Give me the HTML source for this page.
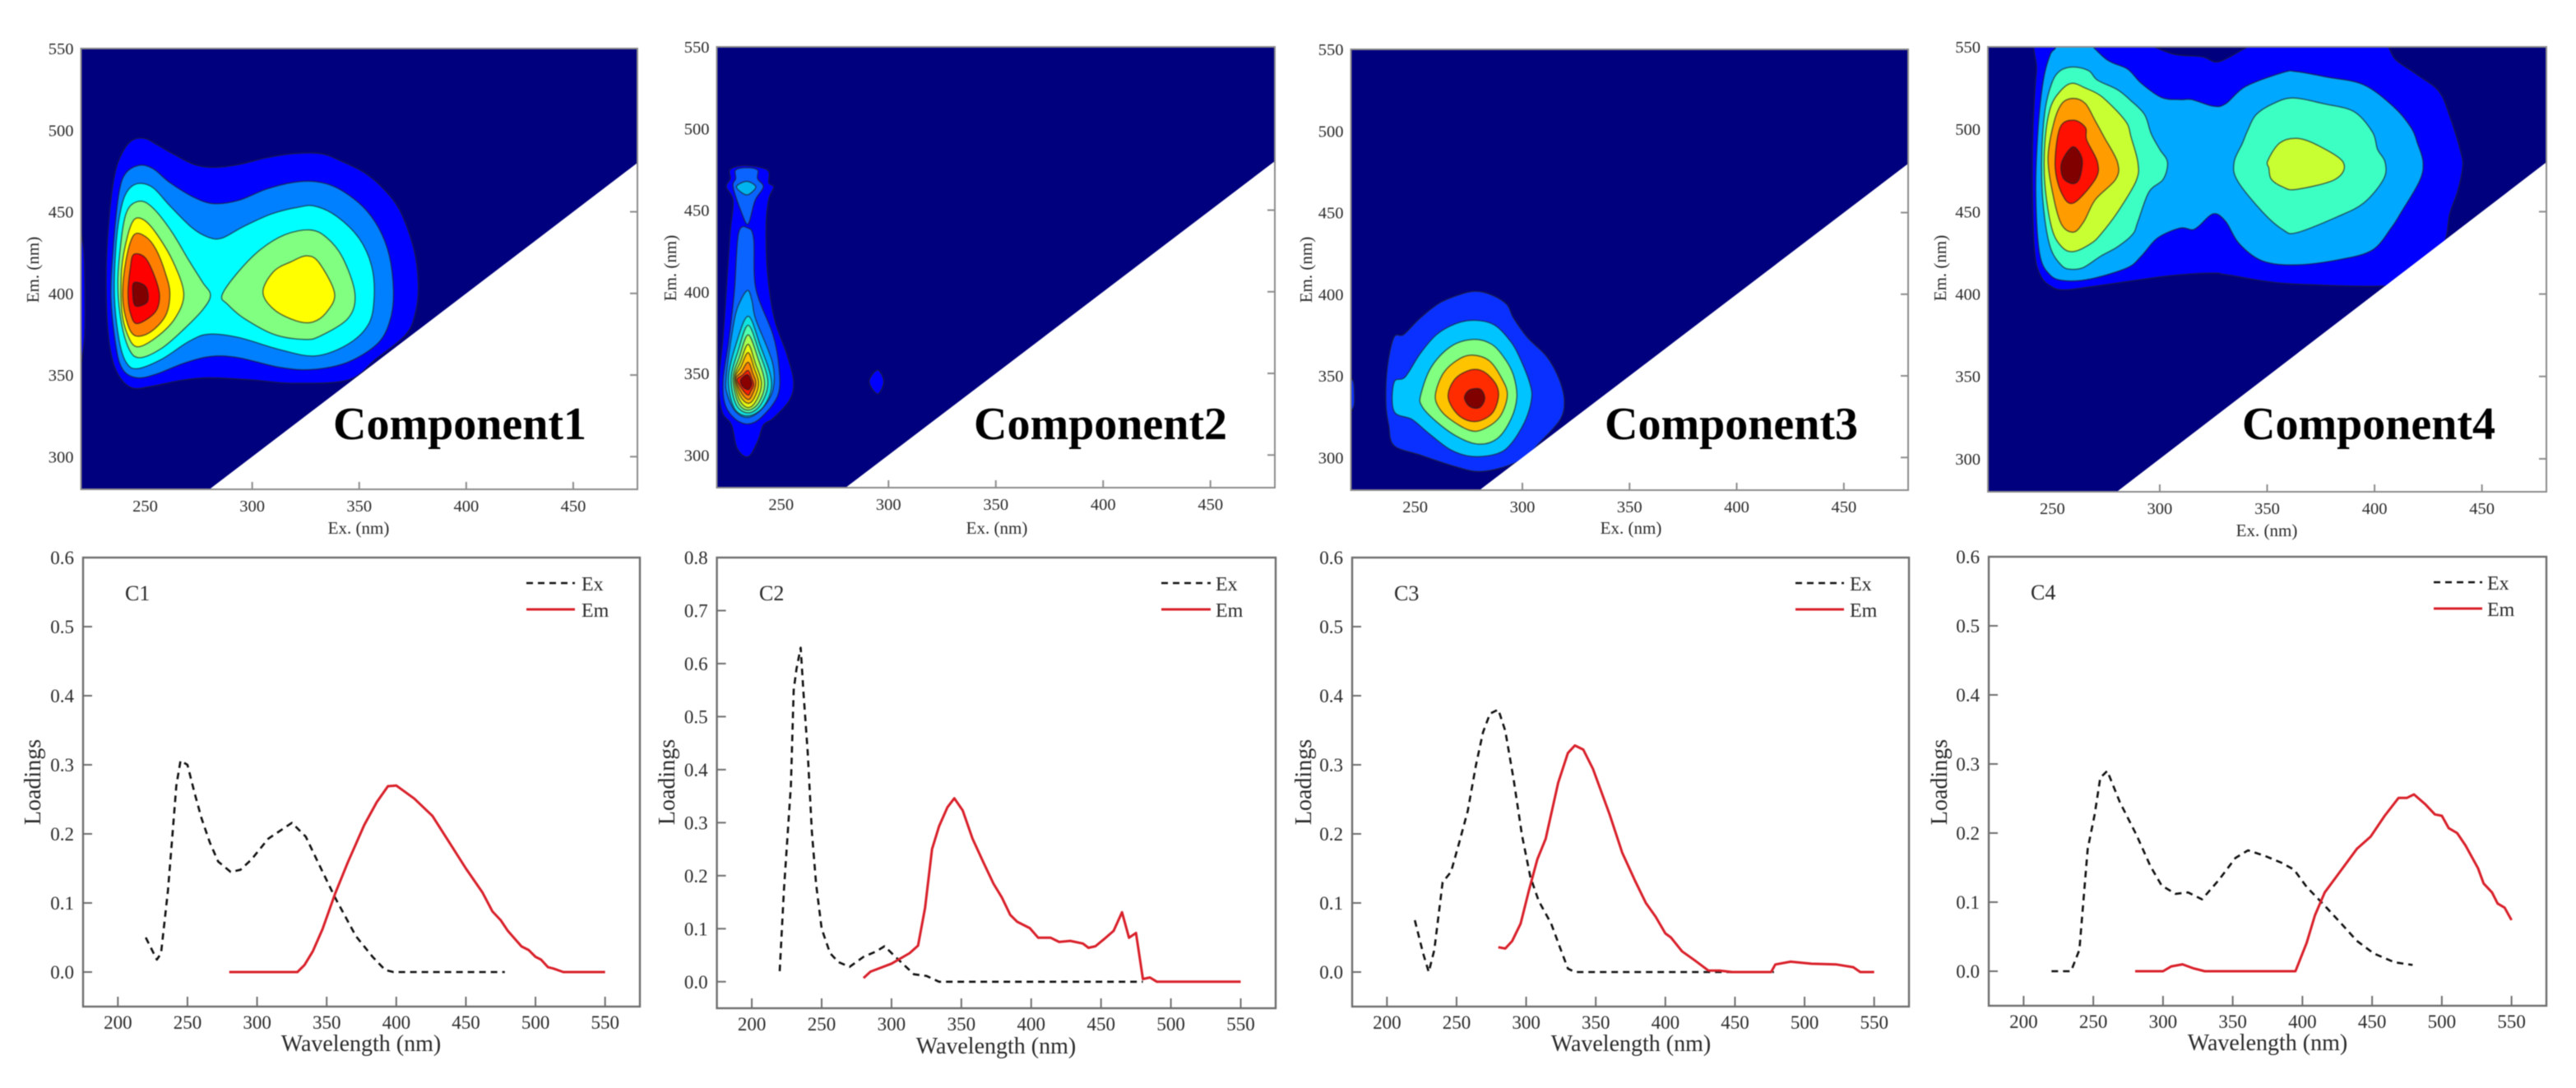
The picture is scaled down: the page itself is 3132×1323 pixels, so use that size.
<!DOCTYPE html>
<html lang="en">
<head>
<meta charset="utf-8">
<title>PARAFAC components: contour maps and loadings</title>
<style>
html,body{margin:0;padding:0;background:#fff;width:3132px;height:1323px;overflow:hidden}
svg{display:block;filter:blur(.6px)}
text{font-family:"Liberation Serif",serif;fill:#2a2a2a}
.tick{font-size:20.5px}
.ltick{font-size:23px}
.ctitle{font-size:21px}
.ltitle{font-size:28px}
.legend{font-size:24px}
.tag{font-size:26px}
.comp{font-size:56px;font-weight:bold;fill:#000}
</style>
</head>
<body>
<svg id="figure" xmlns="http://www.w3.org/2000/svg" width="3132" height="1323" viewBox="0 0 3132 1323">
  <rect width="3132" height="1323" fill="#fff"/>
  <g id="contour1"></g>
  <g id="contour2"></g>
  <g id="contour3"></g>
  <g id="contour4"></g>
  <g id="line1"></g>
  <g id="line2"></g>
  <g id="line3"></g>
  <g id="line4"></g>

  <text class="comp" x="405" y="534">Component1</text>
  <text class="comp" x="1184" y="534">Component2</text>
  <text class="comp" x="1951" y="534">Component3</text>
  <text class="comp" x="2726" y="534">Component4</text>

  <text class="ctitle" text-anchor="middle" x="436" y="649">Ex. (nm)</text>
  <text class="ctitle" text-anchor="middle" x="1212" y="649">Ex. (nm)</text>
  <text class="ctitle" text-anchor="middle" x="1983" y="649">Ex. (nm)</text>
  <text class="ctitle" text-anchor="middle" x="2756" y="652">Ex. (nm)</text>

  <text class="ctitle" text-anchor="middle" transform="translate(47,328) rotate(-90)">Em. (nm)</text>
  <text class="ctitle" text-anchor="middle" transform="translate(822,326) rotate(-90)">Em. (nm)</text>
  <text class="ctitle" text-anchor="middle" transform="translate(1595,328) rotate(-90)">Em. (nm)</text>
  <text class="ctitle" text-anchor="middle" transform="translate(2366,326) rotate(-90)">Em. (nm)</text>

  <text class="ltitle" text-anchor="middle" x="439" y="1278">Wavelength (nm)</text>
  <text class="ltitle" text-anchor="middle" x="1211" y="1281">Wavelength (nm)</text>
  <text class="ltitle" text-anchor="middle" x="1983" y="1278">Wavelength (nm)</text>
  <text class="ltitle" text-anchor="middle" x="2757" y="1277">Wavelength (nm)</text>

  <text class="ltitle" text-anchor="middle" transform="translate(49,951) rotate(-90)">Loadings</text>
  <text class="ltitle" text-anchor="middle" transform="translate(820,951) rotate(-90)">Loadings</text>
  <text class="ltitle" text-anchor="middle" transform="translate(1594,951) rotate(-90)">Loadings</text>
  <text class="ltitle" text-anchor="middle" transform="translate(2367,951) rotate(-90)">Loadings</text>

  <text class="tag" x="152" y="730">C1</text>
  <text class="tag" x="923" y="730">C2</text>
  <text class="tag" x="1695" y="730">C3</text>
  <text class="tag" x="2469" y="729">C4</text>

  <g>
    <line x1="640" x2="699" y1="709" y2="709" stroke="#111" stroke-width="2.6" stroke-dasharray="8 6"/>
    <text class="legend" x="707" y="718">Ex</text>
    <line x1="640" x2="699" y1="741" y2="741" stroke="#d9202a" stroke-width="3"/>
    <text class="legend" x="707" y="750">Em</text>
  </g>
  <g>
    <line x1="1412" x2="1472" y1="709" y2="709" stroke="#111" stroke-width="2.6" stroke-dasharray="8 6"/>
    <text class="legend" x="1478" y="718">Ex</text>
    <line x1="1412" x2="1472" y1="741" y2="741" stroke="#d9202a" stroke-width="3"/>
    <text class="legend" x="1478" y="750">Em</text>
  </g>
  <g>
    <line x1="2183" x2="2242" y1="709" y2="709" stroke="#111" stroke-width="2.6" stroke-dasharray="8 6"/>
    <text class="legend" x="2249" y="718">Ex</text>
    <line x1="2183" x2="2242" y1="741" y2="741" stroke="#d9202a" stroke-width="3"/>
    <text class="legend" x="2249" y="750">Em</text>
  </g>
  <g>
    <line x1="2959" x2="3018" y1="708" y2="708" stroke="#111" stroke-width="2.6" stroke-dasharray="8 6"/>
    <text class="legend" x="3024" y="717">Ex</text>
    <line x1="2959" x2="3018" y1="740" y2="740" stroke="#d9202a" stroke-width="3"/>
    <text class="legend" x="3024" y="749">Em</text>
  </g>
</svg>

<script>
/* ---------- tick labels ---------- */
const contourExTicks = [250, 300, 350, 400, 450];
const contourEmTicks = [300, 350, 400, 450, 500, 550];
const wavelengthTicks = [200, 250, 300, 350, 400, 450, 500, 550];
const loadingTicksA = ["0.0", "0.1", "0.2", "0.3", "0.4", "0.5", "0.6"];
const loadingTicksB = ["0.0", "0.1", "0.2", "0.3", "0.4", "0.5", "0.6", "0.7", "0.8"];

/* ---------- loadings series: wavelength (nm) and loading value ---------- */
const c1ExWl  = [220,228,231,236,239,242,245,250,255,260,266,272,281,288,296,308,325,335,344,356,371,383,392,398,478];
const c1ExVal = [.05,.018,.027,.118,.193,.27,.306,.30,.26,.223,.188,.16,.145,.148,.163,.193,.216,.196,.158,.108,.052,.022,.003,0,0];
const c1EmWl  = [280,329,334,340,347,356,365,377,386,394,400,413,426,438,450,462,469,475,480,490,495,500,504,509,513,520,550];
const c1EmVal = [0,0,.01,.03,.062,.113,.158,.213,.246,.269,.27,.251,.226,.188,.15,.115,.088,.075,.06,.037,.032,.022,.018,.007,.005,0,0];

const c2ExWl  = [220,223,228,230,232,235,237,240,243,246,250,256,262,270,280,289,295,304,316,325,334,480];
const c2ExVal = [.02,.172,.37,.55,.59,.63,.545,.434,.283,.185,.10,.054,.037,.028,.047,.057,.067,.044,.014,.011,0,0];
const c2EmWl  = [280,285,300,313,319,324,329,334,340,345,351,358,366,373,379,385,390,399,405,414,420,428,437,441,446,452,459,465,470,475,480,485,490,550];
const c2EmVal = [.007,.019,.034,.054,.068,.139,.25,.293,.329,.346,.323,.27,.224,.185,.159,.126,.113,.101,.083,.083,.075,.077,.072,.064,.067,.08,.096,.131,.083,.092,.005,.008,0,0];

const c3ExWl  = [220,226,230,234,240,246,252,258,264,269,274,280,285,291,297,303,309,318,324,330,335,478];
const c3ExVal = [.075,.027,0,.032,.13,.145,.188,.233,.30,.347,.374,.38,.349,.279,.198,.138,.103,.07,.037,.005,0,0];
const c3EmWl  = [280,285,290,296,302,308,314,323,330,335,341,348,360,369,378,386,393,400,404,412,421,431,439,448,466,476,479,490,505,523,535,540,550];
const c3EmVal = [.036,.034,.045,.07,.118,.163,.193,.274,.317,.328,.322,.294,.228,.173,.133,.10,.08,.056,.05,.03,.017,.002,.002,0,0,0,.011,.015,.012,.011,.007,0,0];

const c4ExWl  = [220,234,240,246,251,255,260,269,281,291,299,309,318,328,340,352,361,373,385,394,403,415,427,439,451,466,479];
const c4ExVal = [0,0,.031,.177,.227,.28,.29,.245,.197,.152,.124,.112,.114,.104,.132,.164,.175,.167,.157,.147,.122,.097,.071,.044,.026,.013,.009];
const c4EmWl  = [280,300,306,314,322,330,395,403,409,416,427,439,449,459,469,475,480,488,495,500,505,511,517,526,530,536,540,545,550];
const c4EmVal = [0,0,.007,.01,.004,0,0,.041,.081,.114,.144,.177,.195,.225,.251,.251,.256,.242,.227,.225,.207,.20,.182,.149,.127,.114,.098,.092,.074];

/* ---------- contour boundaries: [excitation nm, emission nm] ---------- */
const comp1Sliver = [[218,355],[221.5,370],[221.8,405],[221,430],[218,435]];
const comp1Band1 = [[244.2,494],[250,494.8],[255.1,491.4],[262.8,485.6],[273,478.9],[282,477.2],[293.6,478.9],[306.4,483],[319.2,485.6],[332,485.6],[341,481.4],[352.6,473.8],[361.5,463.8],[369.2,450.3],[375.6,426.8],[377.6,405],[376.3,388.3],[371.8,374.8],[357.7,359.7],[344.9,347],[319.2,345],[300,347],[280.8,348.3],[268,347],[252.6,343],[244.2,342],[238.5,348],[234.6,359.7],[232.3,381.5],[231.8,415],[233.3,448.7],[235.9,473.8],[239.7,487.2]];
const comp1Band2 = [[241,473.8],[247.4,478.5],[253.8,476.3],[261.5,467.9],[273,458.7],[282,455],[293.6,457],[306.4,463.8],[319.2,468],[329.5,468.5],[339.7,464.6],[351.3,453.7],[359,440.3],[364,423.5],[366,401.7],[364.7,384.9],[359,369.8],[344.9,358],[328.2,353.4],[312.8,354.7],[293.6,360.6],[280.8,361.4],[268,357.2],[255.1,350.5],[246.2,348.3],[239.7,353],[236.5,366.4],[234,398.3],[235.3,431.9],[237.8,462]];
const comp1Band3 = [[242.3,463.8],[247.4,467.4],[253.8,464.6],[261.5,453.7],[271.8,440.3],[279.5,434.4],[285.9,433.9],[296,441],[309,448.7],[321.8,452.9],[329.5,453.4],[339.7,447],[350,433.6],[355.8,416.8],[357,398.3],[354.5,381.5],[344.9,369],[329.5,361.7],[312.8,365.6],[293.6,373],[279.5,375],[270.5,370.6],[257.7,359.7],[246.2,353.9],[241,358],[237.8,371.5],[235.6,398.3],[236.5,431.9],[239,453.7]];
const comp1Band4a = [[244.2,455],[249.4,456.2],[255.1,450.3],[262.8,436.9],[270.5,420],[276.9,406.7],[280.5,399],[276.9,390],[268,378],[257.7,366.4],[247.4,360.6],[242.3,366.4],[238.5,384.9],[237.2,408.4],[239,435],[241,448.7]];
const comp1Band4b = [[285.9,399],[293.6,413.4],[303.8,426.8],[315.4,436],[326.9,438.9],[334.6,434.4],[342.3,421.8],[348,400],[344.9,384.9],[332,374],[324.4,371.8],[310.3,374.8],[296,384.9],[288.5,393.3]];
const comp1Band5a = [[244.9,445.3],[249.4,445],[255.1,436.9],[262.8,420],[268,400],[264,384.9],[255.1,373],[246.2,367.3],[241.7,374.8],[239,390],[239,415],[241.7,435]];
const comp1Band5b = [[305,400.8],[310,413.4],[318,419.3],[325.6,423],[331.4,418.5],[338.5,400],[334.6,388.3],[328.2,382.4],[320.5,383.2],[310.3,390]];
const comp1Band6 = [[244.6,435.6],[250,434.9],[255.1,426.8],[259.6,411.7],[261.5,400],[259.6,386.6],[252.6,376.5],[245.5,374],[241.7,381.5],[239.5,398.3],[241,420]];
const comp1Band7 = [[244.6,423.8],[250,421.8],[254.5,410],[256.7,398.3],[254.5,388.3],[246.2,381.5],[243,388.3],[242,400],[243,415]];
const comp1Band8 = [[244.9,406.7],[250.3,404],[251,395],[245.5,392.4],[244.2,400]];
const comp1Bands = [comp1Sliver,comp1Band1,comp1Band2,comp1Band3,comp1Band4a,comp1Band4b,comp1Band5a,comp1Band5b,comp1Band6,comp1Band7,comp1Band8];

const comp2Band1 = [[226.3,475],[233.3,477.3],[243.6,474.6],[244.2,466.7],[246.5,464.2],[244.2,456.7],[243,440.7],[243.6,412.2],[246.8,383.7],[252.6,361.9],[255.8,345],[253.8,333.4],[246.2,322.4],[241.7,318.3],[239,308.2],[234.6,299],[229.5,304],[226.9,318.3],[222.4,326.6],[221,345],[223,373.6],[225,412.2],[226.3,437.4],[227.6,455.8],[224.4,464.2],[226.3,469.3]];
const comp2Spot = [[291,345],[294.9,352],[297.8,345],[294.9,337.5]];
const comp2Band2a = [[228.8,474.6],[234,476],[239,474.6],[239,469.3],[241.7,464.2],[237.8,455.8],[234.6,441.6],[231.4,449],[227.6,464.2],[228.8,469.3]];
const comp2Band3a = [[229.2,464.6],[234,467.6],[238.2,464.2],[234.6,459.5],[231.4,460.9]];
const comp2Band2b = [[230.1,435.7],[234.6,439],[237.2,432.3],[238.2,402],[246.2,373.6],[249,353.5],[248.5,336.7],[241,323.3],[234.6,319],[228.2,322.4],[223.7,331.7],[223,346.8],[225.6,370.3],[228.2,400.5]];
const comp2Band3b = [[231.4,395.4],[234.6,400.8],[236.5,393.8],[238.2,382.9],[245.9,356.8],[246.2,340],[241,328.3],[234.6,323],[228.8,326.6],[225,336.7],[224.4,348.5],[228.2,382.9]];
const comp2Band4 = [[234.6,385],[240,368],[245.5,345],[242,330],[234.6,324],[228,329],[225.4,347],[229,368]];
const comp2Band5 = [[234.6,379.5],[239.5,364],[243.8,345],[240.5,331],[234.6,325.8],[229,331],[226.7,347],[230,364]];
const comp2Band6 = [[234.6,373.6],[239,360],[242.3,344],[239.5,332],[234.6,327.5],[230,332],[227.6,347],[230.5,360]];
const comp2Band7 = [[234.6,367.8],[238,356],[240.8,344],[238.5,333.5],[234.6,329],[230.5,334],[228.2,347],[231,357]];
const comp2Band8 = [[234.6,362.7],[237.5,353],[239.5,344],[237.5,335],[234.6,331.7],[231,336],[228.6,347],[231.2,354]];
const comp2Band9 = [[234.6,356.8],[236.8,350],[238.2,344],[236.6,337],[234.6,334],[231.5,338],[228.9,346.5],[231.5,351]];
const comp2Band10 = [[234.6,351.8],[236.3,347],[237.2,343],[235.8,339],[234.6,336.7],[232,340],[229.5,346],[232,349]];
const comp2Band11 = [[234.6,349],[236.3,344],[235.5,341],[234.4,340],[232,342],[231,345.5],[232.5,348]];
const comp2Bands = [comp2Band1,comp2Spot,comp2Band2a,comp2Band3a,comp2Band2b,comp2Band3b,comp2Band4,comp2Band5,comp2Band6,comp2Band7,comp2Band8,comp2Band9,comp2Band10,comp2Band11];

const comp3Sliver = [[218,328],[221.3,331],[221.6,340],[221,347],[218,349]];
const comp3Band1 = [[240.1,373.6],[244.6,375.3],[252.3,385.4],[261.3,394.6],[270.3,399.6],[278,401.8],[285.6,399.6],[292.7,393.8],[295.9,385.4],[302.3,373.6],[311.3,361.9],[317,348.5],[319.6,335],[317.7,323.3],[308.7,309.9],[301,299.8],[290.8,293.9],[279.2,291.4],[267.7,294.8],[252.3,301.5],[240.1,307.3],[237.6,320],[236.3,333.4],[237,355.2]];
const comp3Band2 = [[240.1,346],[245.3,349.3],[252.3,363.6],[260,375.3],[269,382],[278,384],[286.9,381.2],[294,372],[298.5,361.9],[303.6,345],[304.2,335],[301,321.6],[294.6,308.2],[288.2,302.3],[276.7,300.6],[266.4,304.8],[256.2,314.9],[248.5,323.3],[240.1,328.3]];
const comp3Band3 = [[252.6,338.4],[257.4,355.2],[266.4,367.8],[276.7,372.3],[285.6,369.4],[292,360.2],[295.9,350.1],[297.4,336.7],[294.6,323.3],[288.2,311.5],[279.2,308.2],[269,313.2],[258.7,323.3],[253,331.7]];
const comp3Band4 = [[259.4,338.4],[263.2,351.8],[270.3,360.2],[276.7,362.7],[284.4,359.4],[290,349.3],[293,338.4],[289.5,325],[281.8,317.4],[275.4,316.6],[266.4,323.3],[261.3,330]];
const comp3Band5 = [[265.4,336.7],[268.3,347.6],[275.4,353.5],[281.8,352.7],[287.6,345],[288.8,336.7],[285.6,326.6],[277.9,322],[270.3,325.8]];
const comp3Band6 = [[273,336.7],[275.4,341.4],[280.5,341.7],[282.4,335.9],[279.9,330.5],[275.4,331.3]];
const comp3Bands = [comp3Sliver,comp3Band1,comp3Band2,comp3Band3,comp3Band4,comp3Band5,comp3Band6];

const comp4Band1 = [[245,556],[285,554],[296,550.5],[307,545.4],[319.7,544],[326,540.8],[332,543.5],[342,550.5],[355,555],[399,556],[410,542],[420,533],[430,523],[435,508],[440,487],[441,477],[438.6,462],[435,448.7],[432,429.5],[420,407],[364,406],[332.5,411.4],[325,412.7],[304,411],[269,404.6],[255,402.5],[249,405],[244.6,411],[241.8,425],[240.7,463],[241,501],[242.6,535.5]];
const comp4Band2 = [[245.8,529.8],[248.9,545],[251.3,549],[253.6,554],[264.6,554],[275.6,542],[285,536.5],[291.4,527.9],[300.8,519.3],[309.4,518],[315,518],[325,514],[330.7,515.5],[340,526],[357.4,534.5],[363.7,535],[377.8,531.7],[395,527],[409,513.5],[417,501],[420,491.5],[422.6,480],[421,468.7],[412.4,449.6],[407.7,440],[399,426.7],[384,421],[363.7,417.7],[348,420],[337,430.5],[330.7,444],[325,448.7],[318,441],[315,439],[309.4,440],[299,434],[291.4,423],[285,416],[269,409.5],[256.8,408],[249,411.5],[244,425],[242.3,463],[243.4,501]];
const comp4Band3a = [[253.6,535.5],[260,537.8],[267,535.5],[271,529.8],[280.3,524],[286.6,517.3],[293,508.8],[296,497.3],[300,487.8],[303.6,480],[301.6,469.6],[295,462],[289.8,443.9],[287.4,436.3],[280.3,428.6],[272.5,423],[264.6,416.2],[259,415],[254.4,417.2],[249,428.6],[245.8,453.4],[245,482],[246.5,510.7],[249.7,527.9]];
const comp4Band3b = [[340.9,499.2],[344.8,508.8],[352.7,515.5],[362,519],[376.3,515.5],[390.4,510.7],[399,498.3],[401.4,487.8],[404.9,480],[404.2,469.7],[395,455.3],[382.5,446.8],[363.7,437.2],[357.4,439],[348,449.6],[336.2,468.7],[334.6,480],[338.5,491.6]];
const comp4Band4a = [[253.6,523],[259,527.9],[265.4,525],[272.5,520.3],[280.3,510.7],[285,503],[286.6,495.5],[289.8,480],[289,468.7],[280.3,449.6],[272.5,436.2],[267.8,430.5],[259.9,425.8],[254.4,428.6],[249.7,440],[246.5,466.8],[246.5,491.6],[249,512.6]];
const comp4Band4b = [[350.3,481],[355.8,491.6],[363.7,494.5],[373,490.6],[385.4,480],[381.8,469.7],[363.7,463.5],[357.4,464.9],[351.9,469.7],[350.8,476.3]];
const comp4Band5 = [[259.9,518.7],[265.4,515.5],[270,505],[274,495.5],[280.3,480],[279.5,469.7],[270,457.3],[264.6,443.9],[259.9,437.6],[254.4,442],[250.5,459],[248,482],[250.5,503],[254.4,515.5]];
const comp4Band6 = [[259.9,505.5],[265.4,501],[266,493.5],[271,480],[270,469.7],[259.9,455.3],[254.4,461],[251.3,478],[253.6,501]];
const comp4Band7 = [[259.6,489.3],[263.8,482],[262.7,470.6],[259.6,467],[255,470.6],[254.4,480]];
const comp4Bands = [comp4Band1,comp4Band2,comp4Band3a,comp4Band3b,comp4Band4a,comp4Band4b,comp4Band5,comp4Band6,comp4Band7];

/* band fill colours, parallel to the band lists */
const comp1Fills = ["#0000ff","#0000ff","#0080ff","#00ffff","#80ff80","#80ff80","#ffff00","#ffff00","#ff8000","#ff0000","#800000"];
const comp2Fills = ["#0000ff","#0000ff","#0a64ff","#00b4f0","#0a64ff","#00a8ff","#10e4e0","#50ffb0","#a8ff50","#e8f810","#ffc000","#ff8000","#ff2000","#8a0000"];
const comp3Fills = ["#0a30ff","#0a30ff","#00c4ff","#80ff80","#ffc400","#ff2c00","#800000"];
const comp4Fills = ["#0000ff","#00a8ff","#3cffc4","#3cffc4","#c8ff32","#c8ff32","#ff9c00","#ff1000","#800000"];

/* ---------- helpers ---------- */
const NS = "http://www.w3.org/2000/svg";
function make(tag, attrs, parent) {
  const el = document.createElementNS(NS, tag);
  for (const k in attrs) el.setAttribute(k, attrs[k]);
  parent.appendChild(el);
  return el;
}
function smoothClosed(pts) {
  const n = pts.length;
  let d = "M" + pts[0][0].toFixed(1) + " " + pts[0][1].toFixed(1);
  for (let i = 0; i < n; i++) {
    const p0 = pts[(i - 1 + n) % n], p1 = pts[i], p2 = pts[(i + 1) % n], p3 = pts[(i + 2) % n];
    const c1x = p1[0] + (p2[0] - p0[0]) / 6, c1y = p1[1] + (p2[1] - p0[1]) / 6;
    const c2x = p2[0] - (p3[0] - p1[0]) / 6, c2y = p2[1] - (p3[1] - p1[1]) / 6;
    d += "C" + c1x.toFixed(1) + " " + c1y.toFixed(1) + " " + c2x.toFixed(1) + " " + c2y.toFixed(1) + " " + p2[0].toFixed(1) + " " + p2[1].toFixed(1);
  }
  return d + "Z";
}

function drawContour(id, box, bands, fills) {
  const g = document.getElementById(id);
  const xs = ex => box.l + (ex - 220) * (box.r - box.l) / 260;
  const ys = em => box.b - (em - 280) * (box.b - box.t) / 270;
  const axisColor = "#8c8c8c";

  contourExTicks.forEach(function (v) {
    const t = make("line", {x1: xs(v), x2: xs(v), y1: box.b, y2: box.b - 9, stroke: axisColor, "stroke-width": 2}, g);
    
    
    const label = make("text", {class: "tick", x: xs(v), y: box.b + 27, "text-anchor": "middle"}, g);
    label.textContent = String(v);
    
    
  });
  contourEmTicks.forEach(function (v) {
    const t = make("line", {x1: box.r, x2: box.r - 9, y1: ys(v), y2: ys(v), stroke: axisColor, "stroke-width": 2}, g);
    
    
    const label = make("text", {class: "tick", x: box.l - 9, y: ys(v) + 7, "text-anchor": "end"}, g);
    label.textContent = String(v);
    
    
  });

  const corners = [[220,550],[480,550],[480,480],[280,280],[220,280]];
  const cornerPts = corners.map(c => xs(c[0]).toFixed(1) + "," + ys(c[1]).toFixed(1)).join(" ");
  const defs = make("defs", {}, g);
  const clip = make("clipPath", {id: "clip-" + id}, defs);
  make("polygon", {points: cornerPts}, clip);

  const field = make("polygon", {points: cornerPts, fill: "#00007f"}, g);
  
  

  const inner = make("g", {"clip-path": "url(#clip-" + id + ")"}, g);
  
  
  bands.forEach(function (band, i) {
    const pts = band.map(p => [xs(p[0]), ys(p[1])]);
    const path = make("path", {d: smoothClosed(pts), fill: fills[i], stroke: "rgba(30,30,40,.62)", "stroke-width": 1.6}, inner);
    
    
  });

  const frame = make("path", {
    d: "M" + box.l + " " + box.t + "H" + box.r + "V" + box.b + "H" + box.l + "Z",
    fill: "none", stroke: axisColor, "stroke-width": 2
  }, g);
  
  
}

function drawLines(id, box, yMax, yLabels, exWl, exVal, emWl, emVal) {
  const g = document.getElementById(id);
  const xs = w => box.l + (w - 175) * (box.r - box.l) / 400;
  const ys = v => box.b - (v + 0.05) * (box.b - box.t) / (yMax + 0.05);
  const axisColor = "#6e6e6e";

  const frame = make("rect", {x: box.l, y: box.t, width: box.r - box.l, height: box.b - box.t, fill: "none", stroke: axisColor, "stroke-width": 2.4}, g);
  
  

  wavelengthTicks.forEach(function (v) {
    const t = make("line", {x1: xs(v), x2: xs(v), y1: box.b, y2: box.b - 12, stroke: axisColor, "stroke-width": 2}, g);
    
    
    const label = make("text", {class: "ltick", x: xs(v), y: box.b + 27, "text-anchor": "middle"}, g);
    label.textContent = String(v);
    
    
  });
  yLabels.forEach(function (s) {
    const v = parseFloat(s);
    const t = make("line", {x1: box.l, x2: box.l + 11, y1: ys(v), y2: ys(v), stroke: axisColor, "stroke-width": 2}, g);
    
    
    const label = make("text", {class: "ltick", x: box.l - 11, y: ys(v) + 8, "text-anchor": "end"}, g);
    label.textContent = s;
    
    
  });

  const exPath = exWl.map((w, i) => (i ? "L" : "M") + xs(w).toFixed(1) + " " + ys(exVal[i]).toFixed(1)).join("");
  const ex = make("path", {d: exPath, fill: "none", stroke: "#111", "stroke-width": 2.6, "stroke-dasharray": "8 6", "stroke-linejoin": "round"}, g);
  
  

  const emPath = emWl.map((w, i) => (i ? "L" : "M") + xs(w).toFixed(1) + " " + ys(emVal[i]).toFixed(1)).join("");
  const em = make("path", {d: emPath, fill: "none", stroke: "#d9202a", "stroke-width": 3, "stroke-linejoin": "round"}, g);
  
  
}

/* ---------- draw ---------- */
drawContour("contour1", {l: 98.5, r: 775, t: 59, b: 595}, comp1Bands, comp1Fills);
drawContour("contour2", {l: 871.5, r: 1550, t: 57, b: 593}, comp2Bands, comp2Fills);
drawContour("contour3", {l: 1642.5, r: 2320, t: 60, b: 596}, comp3Bands, comp3Fills);
drawContour("contour4", {l: 2417, r: 3096, t: 57, b: 598}, comp4Bands, comp4Fills);

drawLines("line1", {l: 101, r: 778, t: 678, b: 1224}, 0.6, loadingTicksA, c1ExWl, c1ExVal, c1EmWl, c1EmVal);
drawLines("line2", {l: 871.6, r: 1551, t: 678, b: 1226}, 0.8, loadingTicksB, c2ExWl, c2ExVal, c2EmWl, c2EmVal);
drawLines("line3", {l: 1644, r: 2321, t: 678, b: 1224}, 0.6, loadingTicksA, c3ExWl, c3ExVal, c3EmWl, c3EmVal);
drawLines("line4", {l: 2418, r: 3096, t: 677, b: 1223}, 0.6, loadingTicksA, c4ExWl, c4ExVal, c4EmWl, c4EmVal);
</script>
</body>
</html>
